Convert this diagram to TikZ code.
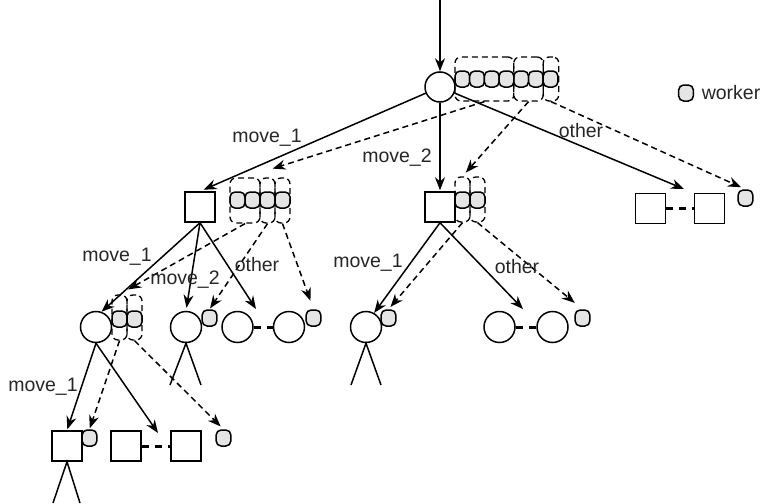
\documentclass[tikz,border=0pt]{standalone}
\usepackage{fontspec}
\setmainfont{Liberation Sans}
\usetikzlibrary{arrows.meta,calc}
\begin{document}
\begin{tikzpicture}[x=1pt,y=-1pt,
  line width=1.5pt,
  circ/.style={circle,draw,fill=white,minimum size=31pt,inner sep=0pt},
  sq/.style={rectangle,draw,fill=white,minimum size=30pt,inner sep=0pt},
  wk/.style={rectangle,rounded corners=5pt,draw,fill=gray!20,minimum width=14.7pt,minimum height=16pt,inner sep=0pt},
  grp/.style={rectangle,rounded corners=6pt,draw,line width=1.3pt,dash pattern=on 6pt off 4pt,inner sep=0pt,minimum height=44pt},
  arr/.style={-{Stealth[length=13pt,width=10pt]}},
  darr/.style={arr,dash pattern=on 6pt off 4pt},
  pairdash/.style={line width=3pt,dash pattern=on 7pt off 6pt},
  lbl/.style={font=\fontsize{19.5}{22}\selectfont,text=black!85,inner sep=0pt},
  stick/.style={line width=1.5pt}
]
\useasboundingbox (0,0) rectangle (765,503);

% ---------------- nodes ----------------
\node[circ,minimum size=30pt] (r) at (440,87) {};
\foreach \i/\x in {1/462.35,2/477.05,3/491.75,4/506.45,5/521.15,6/535.85,7/550.55}
  \node[wk] (rw\i) at (\x,79) {};
\node[grp,minimum width=58.8pt] (rg1) at (484.4,79) {};
\node[grp,minimum width=29.4pt] (rg2) at (528.5,79) {};
\node[grp,minimum width=15.5pt] (rg3) at (551,79) {};

% level 1
\node[sq] (ls) at (200,207) {};
\foreach \i/\x in {1/237.5,2/252.5,3/267.5,4/282.5}
  \node[wk,minimum width=15pt] (lw\i) at (\x,200) {};
\node[grp,minimum width=30pt,minimum height=45pt] (lg1) at (245,200.5) {};
\node[grp,minimum width=15pt,minimum height=45pt] (lg2) at (267.5,200.5) {};
\node[grp,minimum width=15pt,minimum height=45pt] (lg3) at (282.5,200.5) {};

\node[sq] (ms) at (440,207) {};
\node[wk,minimum width=15pt] (mw1) at (462.5,200) {};
\node[wk,minimum width=15pt] (mw2) at (477.5,200) {};
\node[grp,minimum width=15pt,minimum height=45pt] (mg1) at (462.5,199.5) {};
\node[grp,minimum width=15pt,minimum height=45pt] (mg2) at (477.5,199.5) {};

\node[sq] (K) at (650.5,208.5) {};
\node[sq] (L) at (709.5,208.5) {};
\node[wk] (rw) at (745.5,198) {};

% level 2
\node[circ] (A) at (96,327) {};
\node[wk,minimum width=15pt] (aw1) at (119.5,319) {};
\node[wk,minimum width=15pt] (aw2) at (134.5,319) {};
\node[grp,minimum width=15pt,minimum height=45pt] (ag1) at (119.5,317.5) {};
\node[grp,minimum width=15pt,minimum height=45pt] (ag2) at (134.5,317.5) {};

\node[circ] (B) at (186,327) {};
\node[wk] (wB) at (209.5,318) {};
\node[circ] (C) at (237.5,327) {};
\node[circ] (D) at (289,327) {};
\node[wk] (wD) at (313.5,318) {};

\node[circ] (E) at (366,327) {};
\node[wk] (wE) at (388.5,318) {};
\node[circ] (F) at (499.5,327) {};
\node[circ] (G) at (552.5,327) {};
\node[wk] (wG) at (582.5,318) {};

% level 3
\node[sq] (H) at (67,446) {};
\node[wk] (wH) at (89.5,438) {};
\node[sq] (I) at (126,446) {};
\node[sq] (J) at (186,446) {};
\node[wk] (wJ) at (223.5,438) {};

% legend
\node[wk] (lw) at (686,93) {};
\node[lbl,anchor=west] (lt) at (701,93) {worker};

% ---------------- coordinates ----------------
\coordinate (in) at (440,0);
\coordinate (klt) at (684,189);
\coordinate (cdt) at (256,309);
\coordinate (fgt) at (523,309);
\coordinate (ijt) at (158,433);
\coordinate (b1) at (170,385);
\coordinate (b2) at (201,385);
\coordinate (e1) at (351,385);
\coordinate (e2) at (381,385);
\coordinate (h1) at (53,503);
\coordinate (h2) at (80,503);

% ---------------- solid arrows ----------------
\draw[arr] (in) -- (r.north);
\draw[arr,shorten >=4pt] (r) -- (ls.north);
\draw[arr,shorten >=1pt] (r) -- (ms.north);
\draw[arr] (r) -- (klt);

\draw[arr] (ls.south) -- (A.70);
\draw[arr,shorten >=3pt] (ls.south) -- (B.north);
\draw[arr] (ls.south) -- (cdt);

\draw[arr] (ms.south) -- (E.60);
\draw[arr] (ms.south) -- (fgt);

\draw[arr,shorten >=1pt] (A.south) -- (H.north);
\draw[arr] (A.south) -- (ijt);

% pairs
\draw[pairdash] (K.east) -- (L.west);
\draw[pairdash] (C.east) -- (D.west);
\draw[pairdash] (F.east) -- (G.west);
\draw[pairdash] (I.east) -- (J.west);

% sticks
\draw[stick] (b1) -- (B.south) -- (b2);
\draw[stick] (e1) -- (E.south) -- (e2);
\draw[stick] (h1) -- (H.south) -- (h2);

% ---------------- dashed arrows ----------------
\draw[darr,shorten >=29pt] (rg1.south) -- (lg1.north);
\draw[darr,shorten >=5pt] (rg2.south) -- (mg1.north);
\draw[darr,shorten >=5pt] (rg3.south) -- (rw.north);

\draw[darr,shorten >=10pt] (lg1.south) -- (ag1.north);
\draw[darr,shorten >=1pt] (lg2.south) -- (wB.north);
\draw[darr,shorten >=9pt] (lg3.south) -- (wD.north);

\draw[darr,shorten >=3pt] (mg1.south) -- (wE.north);
\draw[darr,shorten >=10pt] (mg2.south) -- (wG.north);

\draw[darr,shorten >=1pt] (ag1.south) -- (wH.north);
\draw[darr,shorten >=4pt] (ag2.south) -- (wJ.north);

% ---------------- labels ----------------
\node[lbl] (l1) at (267,138) {move\_1};
\node[lbl] (l2) at (397,158) {move\_2};
\node[lbl] (l3) at (581,131) {other};
\node[lbl] (l4) at (117,257) {move\_1};
\node[lbl] (l5) at (185,280) {move\_2};
\node[lbl] (l6) at (257,265) {other};
\node[lbl] (l7) at (368,263) {move\_1};
\node[lbl] (l8) at (517,267) {other};
\node[lbl] (l9) at (43,387) {move\_1};
\end{tikzpicture}
\end{document}
